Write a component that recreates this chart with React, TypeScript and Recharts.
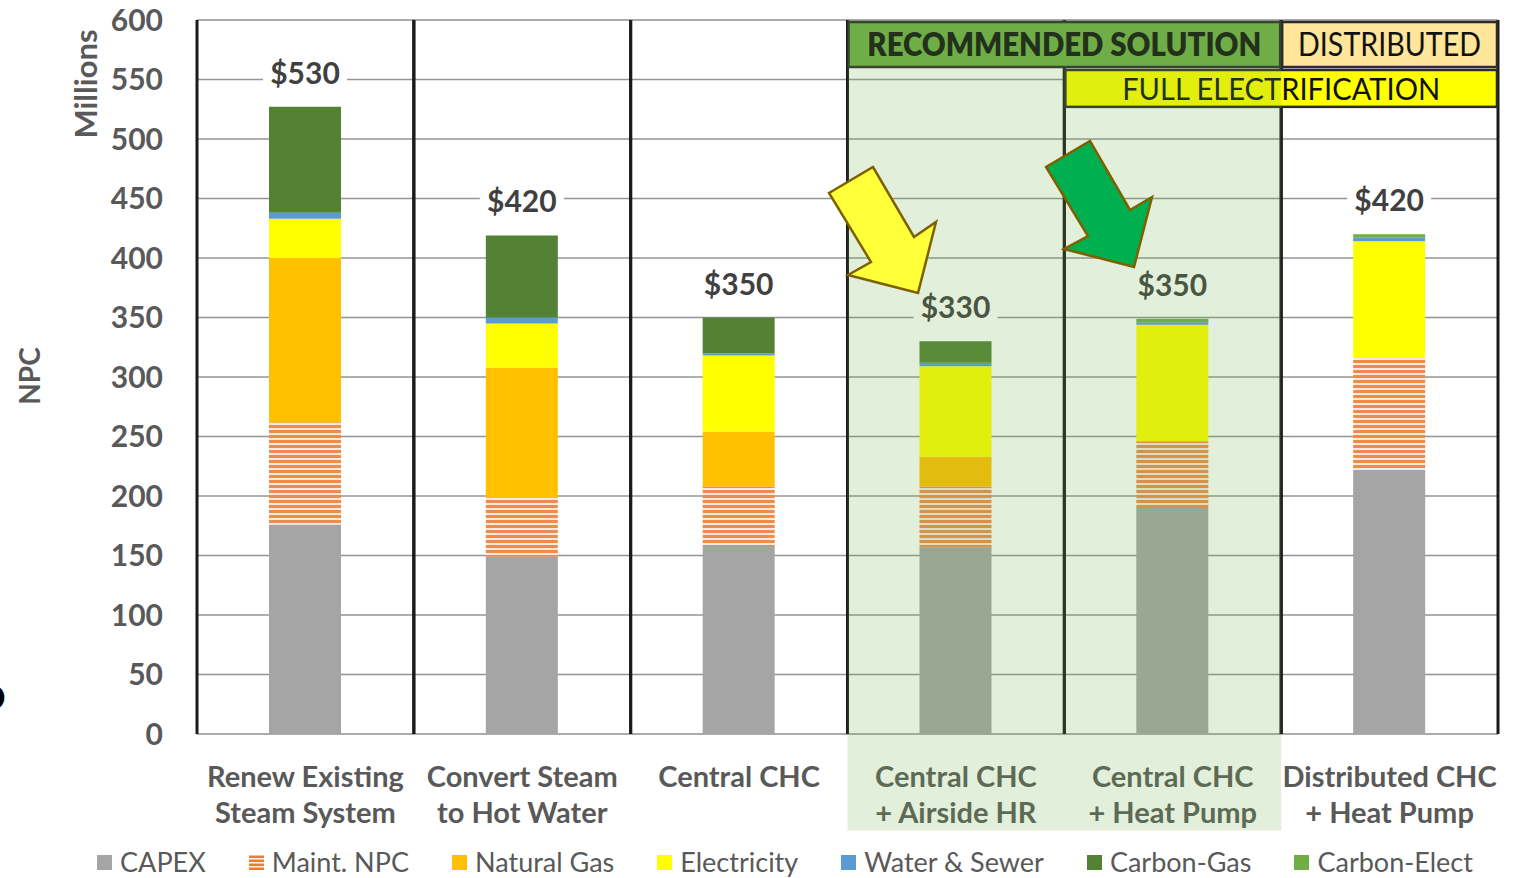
import React from "react";
import {
  ComposedChart,
  Bar,
  XAxis,
  YAxis,
  CartesianGrid,
  ReferenceArea,
  LabelList,
  Legend,
} from "recharts";

// ---------- data ----------
const categories = [
  "Renew Existing|Steam System",
  "Convert Steam|to Hot Water",
  "Central CHC",
  "Central CHC|+ Airside HR",
  "Central CHC|+ Heat Pump",
  "Distributed CHC|+ Heat Pump",
];
const capex = [176, 149, 158, 157, 190, 222];
const maint = [86, 50, 50, 51, 56, 94];
const naturalGas = [138, 109, 46, 25, 0, 0];
const electricity = [33, 37, 64, 76, 98, 98];
const waterSewer = [5, 5, 2, 3, 2, 3];
const carbonGas = [89, 69, 30, 18, 0, 0];
const carbonElect = [0, 0, 0, 0, 3, 3];
const totalLabels = [530, 420, 350, 330, 350, 420];
const majorTicks = [0, 50, 100, 150, 200, 250, 300, 350, 400, 450, 500, 550, 600];
const minorTicks = Array.from({ length: 61 }, (_, i) => i * 10);

const highlighted = [categories[3], categories[4]];
const fullElectric = [categories[4], categories[5]];

const data = categories.map((name, i) => ({
  name,
  capex: capex[i],
  maint: maint[i],
  naturalGas: naturalGas[i],
  electricity: electricity[i],
  waterSewer: waterSewer[i],
  carbonGas: carbonGas[i],
  carbonElect: carbonElect[i],
  total: totalLabels[i],
}));

const FONT = "Lato, 'Liberation Sans', sans-serif";
const TEXT = "#595959";

const series = [
  { key: "capex", name: "CAPEX", fill: "#A5A5A5" },
  { key: "maint", name: "Maint. NPC", fill: "url(#maintStripes)" },
  { key: "naturalGas", name: "Natural Gas", fill: "#FFC000" },
  { key: "electricity", name: "Electricity", fill: "#FFFF00" },
  { key: "waterSewer", name: "Water & Sewer", fill: "#5B9BD5" },
  { key: "carbonGas", name: "Carbon-Gas", fill: "#548235" },
  { key: "carbonElect", name: "Carbon-Elect", fill: "#70AD47" },
];

// ---------- custom pieces ----------
const XTick = (props: any) => {
  const { x, y, payload } = props;
  const lines = String(payload.value).split("|");
  return (
    <text
      x={x}
      y={y}
      textAnchor="middle"
      fill={TEXT}
      fontFamily={FONT}
      fontSize={29}
      fontWeight={700}
    >
      {lines.map((l, i) => (
        <tspan key={i} x={x} dy={i === 0 ? 53 : 36}>
          {l}
        </tspan>
      ))}
    </text>
  );
};

// Label is attached to the CAPEX segment; the top of the whole stack is
// derived from that segment's own pixel-per-unit ratio.
const TotalLabel = (props: any) => {
  const { x, y, width, height, value } = props;
  let i = typeof props.index === "number" ? props.index : -1;
  if (i < 0 && props.payload) i = categories.indexOf(props.payload.name);
  if (i < 0) i = totalLabels.indexOf(Number(value));
  const base = capex[i];
  const stackSum =
    capex[i] +
    maint[i] +
    naturalGas[i] +
    electricity[i] +
    waterSewer[i] +
    carbonGas[i] +
    carbonElect[i];
  const pxPerUnit = Number(height) / base;
  const top = Number(y) - (stackSum - base) * pxPerUnit;
  const cx = Number(x) + Number(width) / 2;
  return (
    <g>
      <rect x={cx - 42} y={top - 51} width={84} height={34} fill="#FFFFFF" />
      <text
        x={cx}
        y={top - 23}
        textAnchor="middle"
        fontFamily={FONT}
        fontSize={30}
        fontWeight={700}
        fill="#404040"
      >
        {"$" + totalLabels[i]}
      </text>
    </g>
  );
};

const CategoryLines = (props: any) => {
  const { x, y, width, height } = props;
  return (
    <g>
      <line x1={x} y1={y} x2={x} y2={y + height} stroke="#1A1A1A" strokeWidth={3} />
      <line
        x1={x + width}
        y1={y}
        x2={x + width}
        y2={y + height}
        stroke="#1A1A1A"
        strokeWidth={3}
      />
    </g>
  );
};

const headerShape =
  (text: string, fill: string, bold: boolean, textLen: number, fontSize: number) =>
  (props: any) => {
    const { x, y, width, height } = props;
    return (
      <g>
        <rect
          x={x + 1}
          y={y}
          width={width - 2}
          height={height}
          fill={fill}
          stroke="#2B2B2B"
          strokeWidth={2.5}
        />
        <text
          x={x + width / 2}
          y={y + height / 2 + fontSize * 0.37}
          textAnchor="middle"
          fontFamily={FONT}
          fontSize={fontSize}
          fontWeight={bold ? 800 : 400}
          fill="#111111"
          textLength={textLen}
          lengthAdjust="spacingAndGlyphs"
        >
          {text}
        </text>
      </g>
    );
  };

const LegendIcon = ({ s }: { s: (typeof series)[number] }) => (
  <svg width={15} height={15} style={{ marginRight: 8, flex: "none" }}>
    {s.key === "maint" ? (
      <g>
        <rect x={0} y={0.5} width={15} height={2.6} fill="#ED7D31" />
        <rect x={0} y={4.5} width={15} height={2.6} fill="#ED7D31" />
        <rect x={0} y={8.5} width={15} height={2.6} fill="#ED7D31" />
        <rect x={0} y={12.5} width={15} height={2.6} fill="#ED7D31" />
      </g>
    ) : (
      <rect x={0} y={0} width={15} height={15} fill={s.fill} />
    )}
  </svg>
);

const LegendContent = () => (
  <div
    style={{
      display: "flex",
      justifyContent: "center",
      alignItems: "center",
      height: 30,
      lineHeight: "30px",
      paddingLeft: 54,
      fontFamily: FONT,
      fontSize: 27,
      color: TEXT,
      whiteSpace: "nowrap",
      boxSizing: "border-box",
    }}
  >
    {series.map((s) => (
      <div
        key={s.key}
        style={{ display: "flex", alignItems: "center", margin: "0 21.5px" }}
      >
        <LegendIcon s={s} />
        <span>{s.name}</span>
      </div>
    ))}
  </div>
);

export default function App() {
  return (
    <div
      style={{
        position: "absolute",
        left: 0,
        top: 0,
        width: 1516,
        height: 878,
        overflow: "hidden",
        background: "#FFFFFF",
      }}
    >
      <ComposedChart
        width={1516}
        height={878}
        data={data}
        margin={{ top: 20, right: 18, left: 0, bottom: 0 }}
        style={{ fontFamily: FONT }}
      >
        <defs>
          <pattern
            id="maintStripes"
            patternUnits="userSpaceOnUse"
            width={10}
            height={5}
          >
            <rect x={0} y={0} width={10} height={5} fill="#FDE9DC" />
            <rect x={0} y={0} width={10} height={3} fill="#EF8B4C" />
          </pattern>
        </defs>
        <YAxis yAxisId="minor" hide domain={[0, 600]} ticks={minorTicks} interval={0} />
        <CartesianGrid
          yAxisId="minor"
          vertical={false}
          stroke="#E8E8E8"
          strokeWidth={1.5}
        />
        <CartesianGrid vertical={false} stroke="#959595" strokeWidth={1.5} />
        <XAxis
          dataKey="name"
          interval={0}
          height={114}
          tickLine={false}
          axisLine={false}
          tickSize={0}
          tickMargin={0}
          tick={<XTick />}
        />
        <YAxis
          domain={[0, 600]}
          ticks={majorTicks}
          interval={0}
          width={197}
          tickLine={false}
          axisLine={false}
          tickSize={0}
          tickMargin={34}
          tick={{ fill: TEXT, fontSize: 30, fontWeight: 700, fontFamily: FONT }}
        />
        {series.map((s, i) => (
          <Bar
            key={s.key}
            dataKey={s.key}
            name={s.name}
            stackId="npc"
            fill={s.fill}
            barSize={72}
            isAnimationActive={false}
          >
            {i === 0 ? <LabelList dataKey="total" content={<TotalLabel />} /> : null}
          </Bar>
        ))}
        {categories.map((c) => (
          <ReferenceArea
            key={"cat-" + c}
            x1={c}
            x2={c}
            y1={0}
            y2={600}
            ifOverflow="visible"
            shape={<CategoryLines />}
            zIndex={1500}
          />
        ))}
        <ReferenceArea
          x1={highlighted[0]}
          x2={highlighted[1]}
          y1={560.5}
          y2={598.3}
          ifOverflow="visible"
          shape={headerShape("RECOMMENDED SOLUTION", "#70AD47", true, 394, 32)}
          zIndex={2100}
        />
        <ReferenceArea
          x1={categories[5]}
          x2={categories[5]}
          y1={560.5}
          y2={598.3}
          ifOverflow="visible"
          shape={headerShape("DISTRIBUTED", "#FFE699", false, 183, 32)}
          zIndex={2100}
        />
        <ReferenceArea
          x1={fullElectric[0]}
          x2={fullElectric[1]}
          y1={527}
          y2={558}
          ifOverflow="visible"
          shape={headerShape("FULL ELECTRIFICATION", "#FFFF00", false, 318, 30)}
          zIndex={2100}
        />
        <ReferenceArea
          x1={highlighted[0]}
          x2={highlighted[1]}
          y1={-81}
          y2={600}
          ifOverflow="visible"
          fill="#70AD47"
          fillOpacity={0.2}
          stroke="none"
          zIndex={2600}
        />
        <Legend
          verticalAlign="bottom"
          content={<LegendContent />}
          wrapperStyle={{ top: 847, left: 0, width: 1516 }}
        />
      </ComposedChart>
      <svg
        width={1516}
        height={878}
        style={{ position: "absolute", left: 0, top: 0, pointerEvents: "none" }}
      >
        <polygon
          points="829,193 873,167 914,237 936,222 918,293 848,275 871,262"
          fill="#FFFF3A"
          stroke="#7F6000"
          strokeWidth={2.5}
        />
        <polygon
          points="1046,167 1090,141 1130,210 1152,197 1134,267 1064,249 1088,236"
          fill="#00B050"
          stroke="#7F6000"
          strokeWidth={2.5}
        />
        <text
          transform="translate(40,376) rotate(-90)"
          textAnchor="middle"
          fontFamily={FONT}
          fontSize={28}
          fontWeight={700}
          fill={TEXT}
        >
          NPC
        </text>
        <text
          transform="translate(97,84) rotate(-90)"
          textAnchor="middle"
          fontFamily={FONT}
          fontSize={31}
          fontWeight={700}
          fill={TEXT}
        >
          Millions
        </text>
        <text
          x={-21}
          y={710}
          fontFamily={FONT}
          fontSize={35}
          fontWeight={700}
          fill="#000000"
        >
          D
        </text>
      </svg>
    </div>
  );
}
